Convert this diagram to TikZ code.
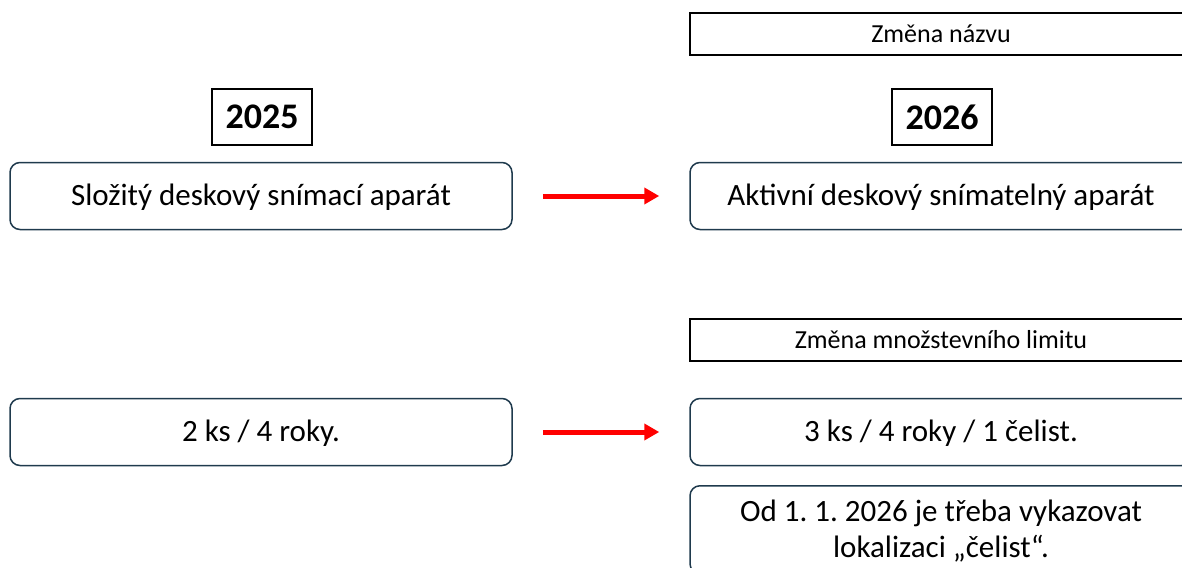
\documentclass[tikz,border=0pt]{standalone}
\usepackage{fontspec}
\setmainfont{Carlito}
\usetikzlibrary{arrows.meta}
\definecolor{boxline}{HTML}{1F3A4D}
\definecolor{arrowred}{HTML}{FF0000}
\frenchspacing
\begin{document}
\begin{tikzpicture}[
    x=1pt, y=-1pt,
    roundbox/.style={rectangle, rounded corners=10pt, draw=boxline, line width=1.5pt,
      minimum width=502pt, minimum height=67pt, inner sep=0pt, align=center,
      text depth=2pt, font=\fontsize{31}{36}\selectfont},
    notebox/.style={rectangle, draw=black, line width=1.6pt, minimum width=502pt,
      minimum height=42pt, inner sep=0pt, font=\fontsize{26}{30}\selectfont},
    yearbox/.style={rectangle, draw=black, line width=2pt, minimum width=100pt,
      minimum height=55pt, inner sep=0pt, font=\bfseries\fontsize{36}{40}\selectfont},
    change/.style={draw=arrowred, line width=5pt, shorten <=30pt, shorten >=30pt,
      -{Triangle[length=15pt, width=16pt]}}
  ]
  \useasboundingbox (0,0) rectangle (1182,567);
  \clip (0,0) rectangle (1182,567);

  %Headings
  \node[notebox] at (941,34) (name) {Změna názvu};
  \node[yearbox] at (262,117) (y25) {2025};
  \node[yearbox] at (942,117) (y26) {2026};
  \node[notebox] at (941,340) (limit) {Změna množstevního limitu};

  %Boxes
  \node[roundbox] at (261,196) (old1) {Složitý deskový snímací aparát};
  \node[roundbox] at (941,196) (new1) {Aktivní deskový snímatelný aparát};
  \node[roundbox] at (261,432) (old2) {2 ks / 4 roky.};
  \node[roundbox] at (941,432) (new2) {3 ks / 4 roky / 1 čelist.};
  \node[roundbox, minimum height=88pt, anchor=north] at (941,485) (note)
    {Od 1. 1. 2026 je třeba vykazovat\\lokalizaci „čelist“.};

  %Arrows
  \draw[change] (old1) -- (new1);
  \draw[change] (old2) -- (new2);

\end{tikzpicture}
\end{document}
